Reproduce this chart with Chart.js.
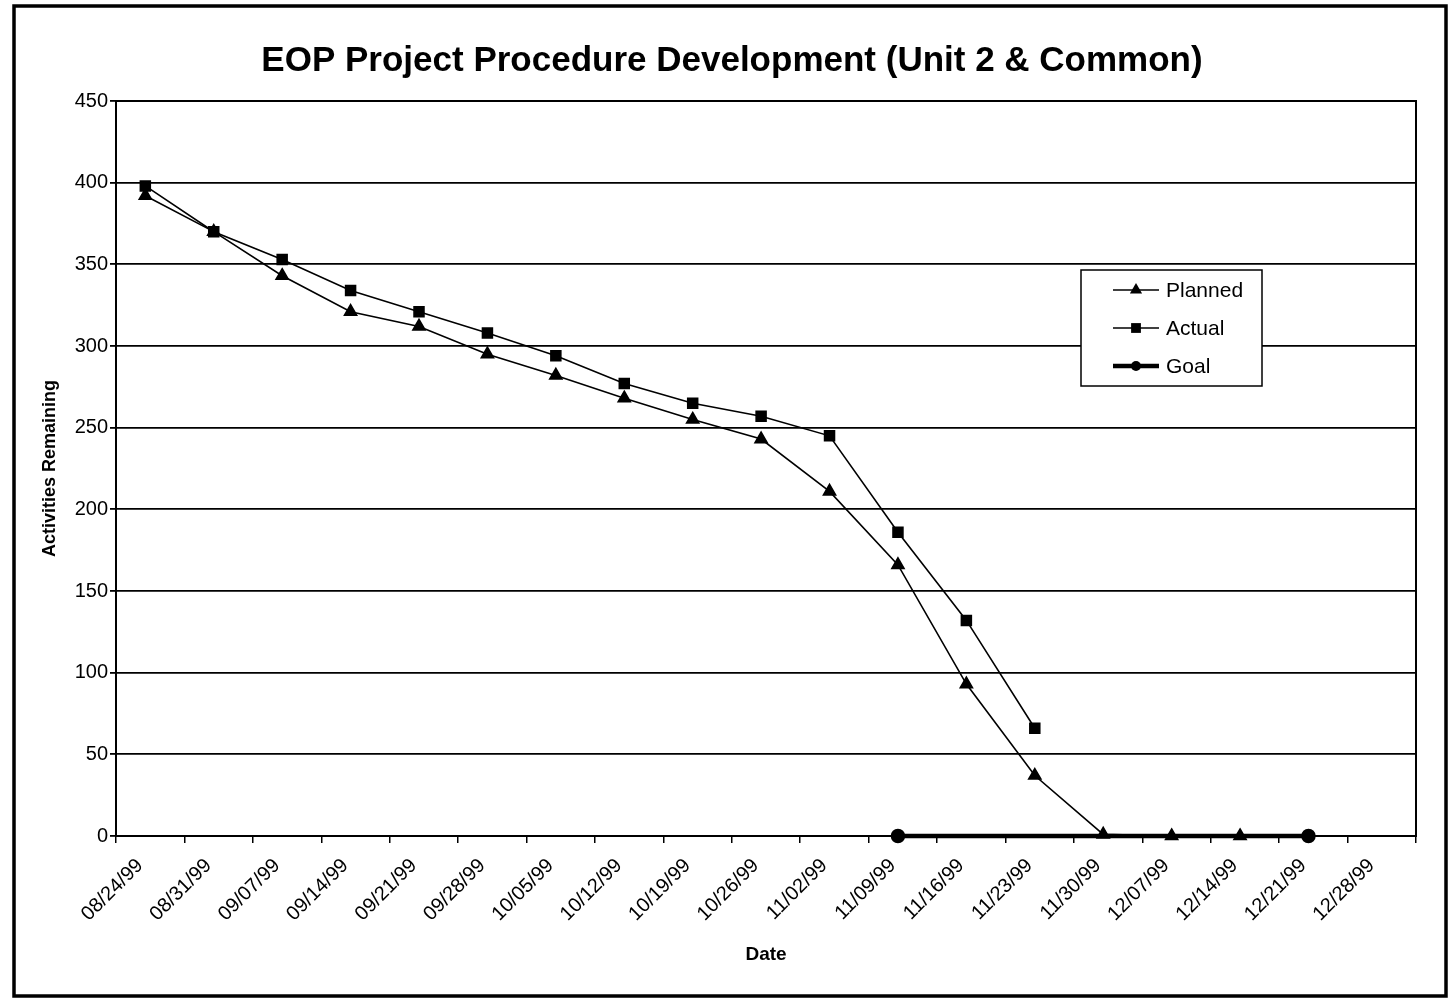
<!DOCTYPE html>
<html>
<head>
<meta charset="utf-8">
<script src="https://cdn.jsdelivr.net/npm/chart.js@4.4.1/dist/chart.umd.min.js"></script>
<style>
  html, body { margin: 0; padding: 0; background: #fff; }
  #wrap { width: 1448px; height: 998px; }
</style>
</head>
<body>
<div id="wrap"><canvas id="chart" width="1448" height="998"></canvas></div>
<script>
// axis runs from 08/24/99 to 01/04/00, one tick a week
var startDate = '08/24/99';
var tickLabels = ['08/24/99', '08/31/99', '09/07/99', '09/14/99', '09/21/99', '09/28/99',
  '10/05/99', '10/12/99', '10/19/99', '10/26/99', '11/02/99', '11/09/99', '11/16/99',
  '11/23/99', '11/30/99', '12/07/99', '12/14/99', '12/21/99', '12/28/99', ''];

// weekly status dates (Fridays)
var weeks = ['08/27/99', '09/03/99', '09/10/99', '09/17/99', '09/24/99', '10/01/99',
  '10/08/99', '10/15/99', '10/22/99', '10/29/99', '11/05/99', '11/12/99', '11/19/99',
  '11/26/99', '12/03/99', '12/10/99', '12/17/99', '12/24/99'];

var planned = [392, 370, 343, 321, 312, 295, 282, 268, 255, 243, 211, 166, 93, 37, 1, 0, 0, null];
var actual = [398, 370, 353, 334, 321, 308, 294, 277, 265, 257, 245, 186, 132, 66, null, null, null, null];

var goalDates = ['11/12/99', '12/24/99'];
var goal = [0, 0];

var yTicks = { min: 0, max: 450, step: 50 };

function dayNum(s) {
  var p = s.split('/');
  var y = +p[2] < 50 ? 2000 + +p[2] : 1900 + +p[2];
  var q = startDate.split('/');
  return (Date.UTC(y, p[0] - 1, +p[1]) - Date.UTC(1900 + +q[2], q[0] - 1, +q[1])) / 86400000;
}

function toPoints(dates, vals) {
  var out = [];
  dates.forEach(function (d, i) {
    if (vals[i] != null) out.push({ x: dayNum(d), y: vals[i] });
  });
  return out;
}

var FONT = '"Liberation Sans", Arial, Helvetica, sans-serif';

// little line+marker pictures for the legend
function legendSample(style, lineW, r) {
  var c = document.createElement('canvas');
  c.width = 46; c.height = 16;
  var g = c.getContext('2d');
  g.strokeStyle = '#000'; g.fillStyle = '#000';
  g.lineWidth = lineW;
  g.beginPath(); g.moveTo(0, 8); g.lineTo(46, 8); g.stroke();
  g.beginPath();
  if (style === 'triangle') {
    g.moveTo(23, 8 - r); g.lineTo(23 + r * 0.87, 8 + r * 0.5); g.lineTo(23 - r * 0.87, 8 + r * 0.5);
  } else if (style === 'rect') {
    g.rect(23 - r * 0.7, 8 - r * 0.7, r * 1.4, r * 1.4);
  } else {
    g.arc(23, 8, r, 0, Math.PI * 2);
  }
  g.fill();
  return c;
}

// legend box sitting inside the plot, like the Excel one
var boxLegend = {
  id: 'boxLegend',
  afterDraw: function (chart) {
    var ctx = chart.ctx;
    var x = 1081, y = 270, w = 181, h = 116;
    ctx.save();
    ctx.fillStyle = '#fff';
    ctx.fillRect(x, y, w, h);
    ctx.strokeStyle = '#000';
    ctx.lineWidth = 1.5;
    ctx.strokeRect(x, y, w, h);
    ctx.font = '21px ' + FONT;
    ctx.fillStyle = '#000';
    ctx.textBaseline = 'middle';
    chart.data.datasets.forEach(function (ds, i) {
      var cy = y + 20 + i * 38;
      ctx.drawImage(legendSample(ds.pointStyle, ds.borderWidth, ds.pointRadius), x + 32, cy - 8);
      ctx.fillText(ds.label, x + 85, cy + 1);
    });
    ctx.restore();
  }
};

// white page, thick frame around it and a box round the plot
var frame = {
  id: 'frame',
  beforeDraw: function (chart) {
    var ctx = chart.ctx;
    ctx.save();
    ctx.fillStyle = '#fff';
    ctx.fillRect(0, 0, chart.width, chart.height);
    ctx.strokeStyle = '#000';
    ctx.lineWidth = 3.5;
    ctx.strokeRect(14, 6, 1432, 990);
    ctx.restore();
  },
  afterDatasetsDraw: function (chart) {
    var a = chart.chartArea, ctx = chart.ctx;
    ctx.save();
    ctx.strokeStyle = '#000';
    ctx.lineWidth = 2;
    ctx.strokeRect(a.left, a.top, a.right - a.left, a.bottom - a.top);
    ctx.restore();
  }
};

new Chart(document.getElementById('chart').getContext('2d'), {
  type: 'line',
  data: {
    datasets: [{
      label: 'Planned',
      data: toPoints(weeks, planned),
      borderColor: '#000',
      backgroundColor: '#000',
      borderWidth: 1.6,
      pointStyle: 'triangle',
      pointRadius: 7,
      tension: 0
    }, {
      label: 'Actual',
      data: toPoints(weeks, actual),
      borderColor: '#000',
      backgroundColor: '#000',
      borderWidth: 1.6,
      pointStyle: 'rect',
      pointRadius: 7,
      tension: 0
    }, {
      label: 'Goal',
      data: toPoints(goalDates, goal),
      borderColor: '#000',
      backgroundColor: '#000',
      borderWidth: 4.5,
      pointStyle: 'circle',
      pointRadius: 5,
      tension: 0
    }]
  },
  options: {
    responsive: false,
    animation: false,
    clip: false,
    layout: { padding: { left: 48, right: 32, top: 20, bottom: 20 } },
    plugins: {
      legend: { display: false },
      tooltip: { enabled: false },
      title: {
        display: true,
        text: 'EOP Project Procedure Development (Unit 2 & Common)',
        color: '#000',
        font: { family: FONT, size: 35, weight: 'bold' },
        padding: { top: 20, bottom: 19 }
      }
    },
    scales: {
      x: {
        type: 'linear',
        min: 0,
        max: dayNum('01/04/00'),
        afterFit: function (s) { s.height = 142; },
        afterBuildTicks: function (s) {
          s.ticks = tickLabels.map(function (t, i) { return { value: i * 7 }; });
        },
        ticks: {
          stepSize: 7,
          autoSkip: false,
          minRotation: 45,
          maxRotation: 45,
          labelOffset: 24,
          padding: 11,
          color: '#000',
          font: { family: FONT, size: 20 },
          callback: function (v, i) { return tickLabels[i]; }
        },
        grid: { drawOnChartArea: false, drawTicks: true, tickLength: 7, color: '#000', lineWidth: 1.5 },
        border: { color: '#000', width: 2 },
        title: {
          display: true,
          text: 'Date',
          color: '#000',
          font: { family: FONT, size: 19, weight: 'bold' },
          padding: { top: 0, bottom: 12 }
        }
      },
      y: {
        min: yTicks.min,
        max: yTicks.max,
        afterFit: function (s) { s.width = 68; },
        ticks: {
          stepSize: yTicks.step,
          padding: 2,
          color: '#000',
          font: { family: FONT, size: 20 }
        },
        grid: { color: '#000', lineWidth: 1.8, tickLength: 6 },
        border: { color: '#000', width: 2 },
        title: {
          display: true,
          text: 'Activities Remaining',
          color: '#000',
          font: { family: FONT, size: 18, weight: 'bold' },
          padding: { top: -9, bottom: 0 }
        }
      }
    }
  },
  plugins: [frame, boxLegend]
});
</script>
</body>
</html>
